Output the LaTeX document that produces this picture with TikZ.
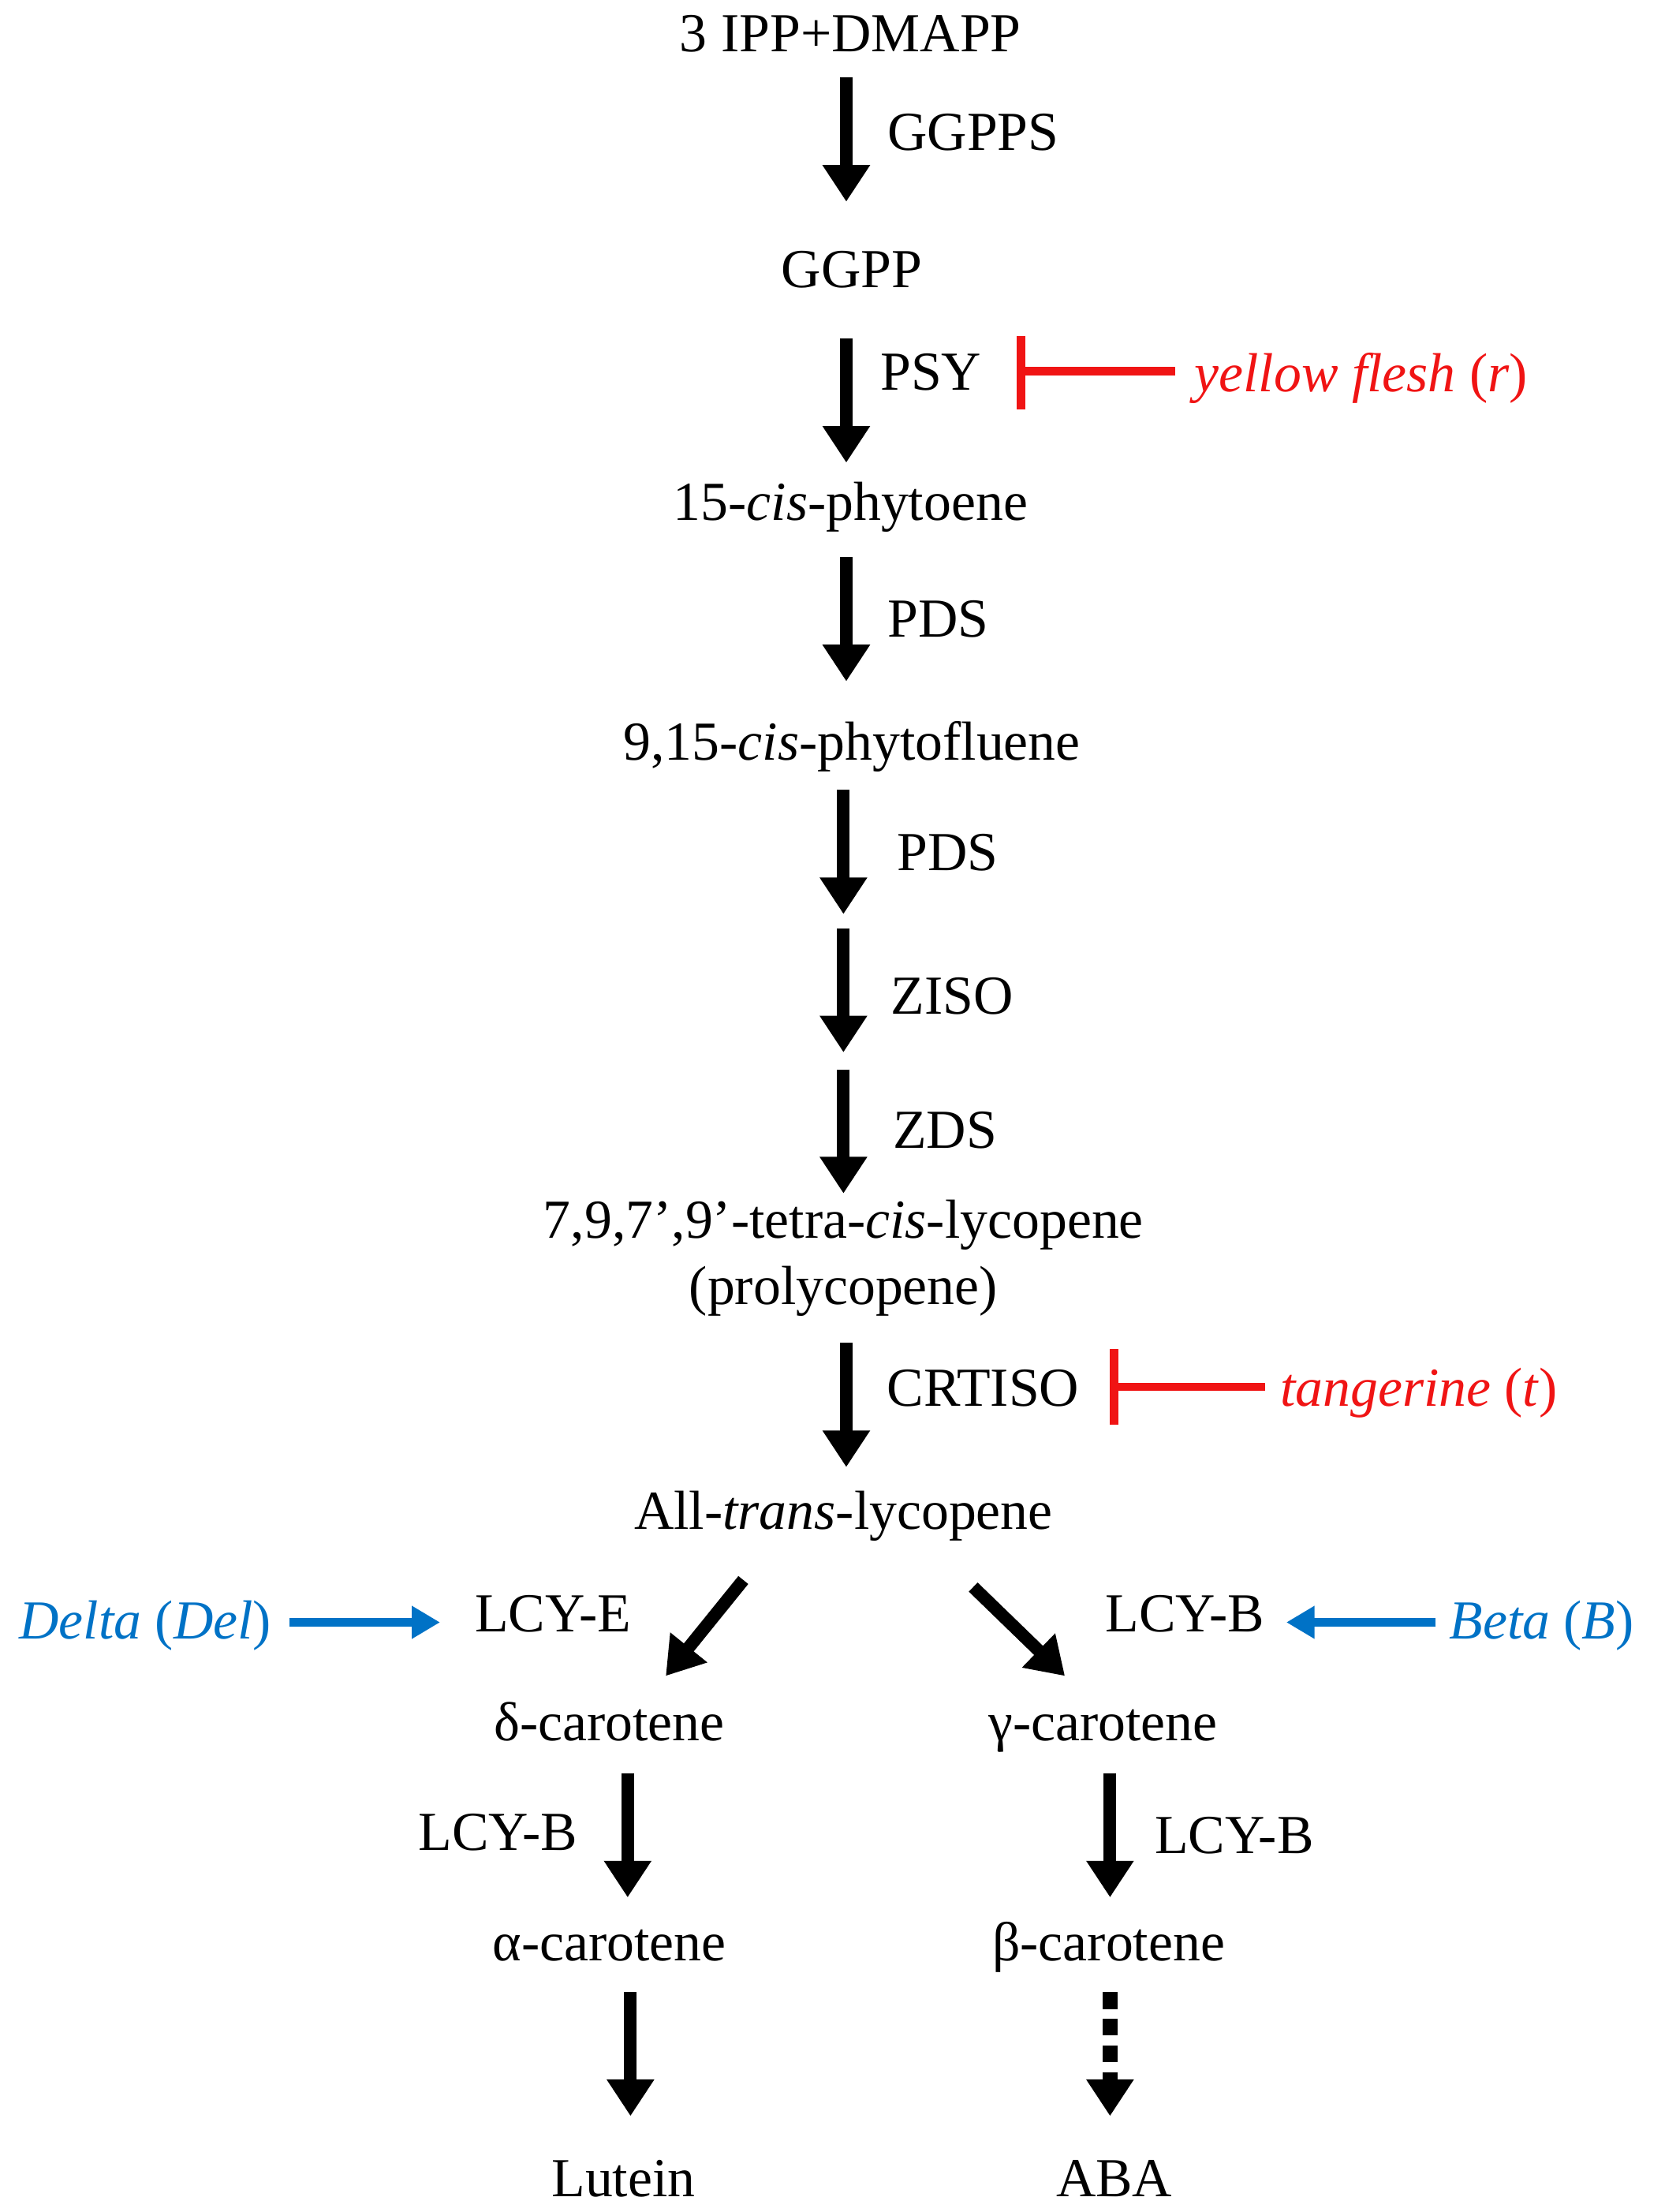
\documentclass[tikz,border=0pt]{standalone}
\usepackage{fontspec}
\setmainfont{Liberation Serif}
\usetikzlibrary{arrows.meta}
\definecolor{myred}{RGB}{240,20,20}
\definecolor{myblue}{RGB}{0,114,198}
\begin{document}
\begin{tikzpicture}[x=0.5pt,y=-0.5pt,
  t/.style={font=\fontsize{19.5}{22}\selectfont, inner sep=0pt, text height=0.72em, text depth=0.24em, yshift=-3.5pt},
  rt/.style={t,text=myred},
  bt/.style={t,text=myblue},
  arr/.style={line width=4.5pt,-{Triangle[width=16pt,length=13pt]}},
  inh/.style={draw=myred,line width=3pt},
  barr/.style={draw=myblue,line width=3pt,-{Triangle[width=11pt,length=10pt]}}]
\useasboundingbox (0,0) rectangle (1180,1568);
\node[t] (ipp) at (603,25) {3 IPP+DMAPP};
\node[t] (ggpps) at (690,95) {GGPPS};
\node[t] (ggpp) at (604,192) {GGPP};
\node[t] (psy) at (660,265) {PSY};
\node[rt] (yf) at (965,266) {\textit{yellow flesh} (\textit{r})};
\node[t] (phy) at (603,357) {15-\textit{cis}-phytoene};
\node[t] (pds1) at (665,440) {PDS};
\node[t] (phf) at (604,527) {9,15-\textit{cis}-phytofluene};
\node[t] (pds2) at (672,605) {PDS};
\node[t] (ziso) at (675,707) {ZISO};
\node[t] (zds) at (670,802) {ZDS};
\node[t] (tet) at (598,866) {7,9,7’,9’-tetra-\textit{cis}-lycopene};
\node[t] (prol) at (598,913) {(prolycopene)};
\node[t] (crt) at (697,985) {CRTISO};
\node[rt] (tang) at (1006,985) {\textit{tangerine} (\textit{t})};
\node[t] (atl) at (598,1072) {All-\textit{trans}-lycopene};
\node[t] (lcye) at (392,1145) {LCY-E};
\node[bt] (del) at (103,1150) {\textit{Delta} (\textit{Del})};
\node[t] (lcyb) at (840,1145) {LCY-B};
\node[bt] (beta) at (1093,1150) {\textit{Beta} (\textit{B})};
\node[t] (dc) at (432,1222) {δ-carotene};
\node[t] (gc) at (782,1222) {γ-carotene};
\node[t] (lb1) at (353,1300) {LCY-B};
\node[t] (lb2) at (875,1302) {LCY-B};
\node[t] (ac) at (432,1378) {α-carotene};
\node[t] (bc) at (786,1378) {β-carotene};
\node[t] (lut) at (442,1545) {Lutein};
\node[t] (aba) at (790,1545) {ABA};
% arrows
\foreach \x/\a/\b [count=\i] in {600/55/143,600/240/328,600/395/483,598/560/648,598/658/746,598/758/846,600/952/1040,445/1257/1345,787/1257/1345,447/1412/1500}{
  \coordinate (s\i) at (\x,\a); \coordinate (e\i) at (\x,\b);
}
\foreach \i in {1,...,10} \draw[arr] (s\i) -- (e\i);
\coordinate (ds) at (787,1412); \coordinate (de) at (787,1500);
\draw[line width=5.5pt,dash pattern=on 6pt off 3.5pt] (ds) -- (787,1478);
\draw[arr] (787,1476) -- (de);
\coordinate (l1) at (527,1120); \coordinate (l2) at (472,1188);
\coordinate (r1) at (690,1125); \coordinate (r2) at (755,1188);
\draw[arr] (l1) -- (l2);
\draw[arr] (r1) -- (r2);
% inhibitions
\coordinate (yb) at (724,263); \coordinate (yl) at (833,263);
\draw[inh] (724,238) -- (724,290);
\draw[inh] (yb) -- (yl);
\coordinate (tb) at (790,983); \coordinate (tl) at (897,983);
\draw[inh] (790,956) -- (790,1010);
\draw[inh] (tb) -- (tl);
% blue arrows
\coordinate (b1) at (205,1150); \coordinate (b2) at (312,1150);
\draw[barr] (b1) -- (b2);
\coordinate (c1) at (1018,1150); \coordinate (c2) at (912,1150);
\draw[barr] (c1) -- (c2);
\end{tikzpicture}
\end{document}
